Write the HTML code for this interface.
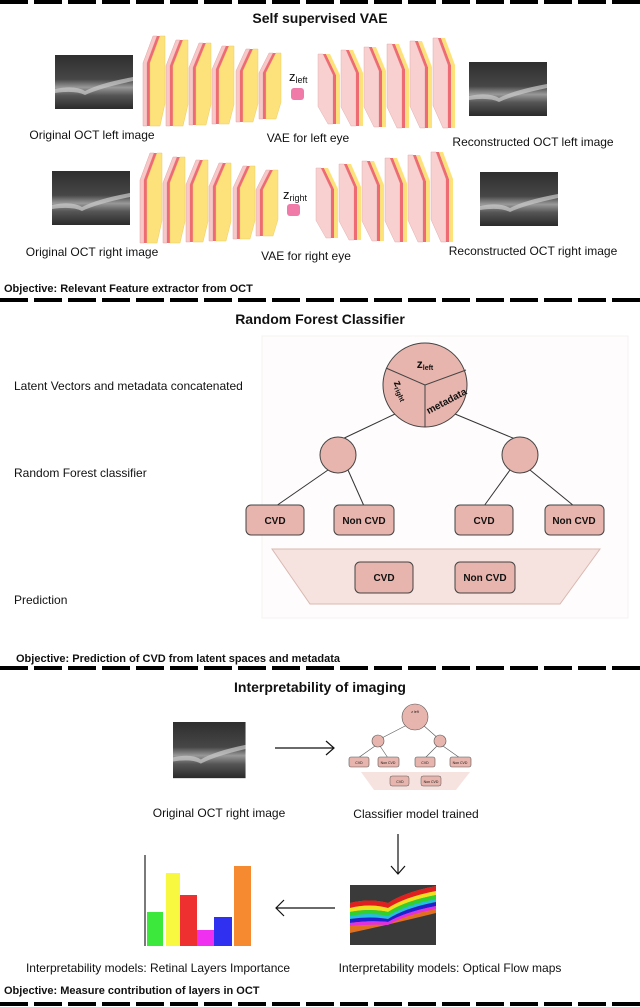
<!DOCTYPE html>
<html><head><meta charset="utf-8"><style>
html,body{margin:0;padding:0;background:#fff}
svg{display:block}
text{font-family:"Liberation Sans",Arial,sans-serif;fill:#111}
.b{font-weight:bold}
</style></head><body>
<svg width="640" height="1007" viewBox="0 0 640 1007" xmlns="http://www.w3.org/2000/svg">
<defs>
<linearGradient id="oct" x1="0" y1="0" x2="0" y2="1">
<stop offset="0" stop-color="#2e2e2e"/><stop offset="0.45" stop-color="#474747"/><stop offset="0.6" stop-color="#999"/><stop offset="0.75" stop-color="#555"/><stop offset="1" stop-color="#2a2a2a"/>
</linearGradient>
<pattern id="dash" width="34" height="4" patternUnits="userSpaceOnUse"><rect width="28" height="4" fill="#000"/></pattern>
<g id="enc"><polygon points="0,30 10,0 14,0 4,30 4,100 0,100" fill="#f8c8c8" stroke="#e0a0a0" stroke-width="0.5"/><polygon points="4,30 14,0 17,0 7,30 7,100 4,100" fill="#ee6b73"/><polygon points="7,30 17,0 22,0 22,75 17,100 7,100" fill="#fde27c" stroke="#e8c860" stroke-width="0.5"/></g>
<g id="dec"><polygon points="0,0 5,0 15,30 15,100 10,100 0,75" fill="#f8d0d0" stroke="#e0a8a8" stroke-width="0.5"/><polygon points="5,0 8,0 18,30 18,100 15,100 15,30" fill="#ee6b73"/><polygon points="8,0 12,0 22,30 22,100 18,100 18,30" fill="#fde27c"/></g>
<g id="octimg"><rect width="78" height="54" fill="url(#oct)"/><path d="M0,34 Q20,30 30,36 Q45,28 78,22 L78,26 Q45,33 30,40 Q20,35 0,38Z" fill="#ccc" opacity="0.7"/></g>
</defs>
<rect x="0" y="0" width="640" height="4" fill="url(#dash)"/>
<text x="320" y="23" text-anchor="middle" class="b" font-size="14">Self supervised VAE</text>

<use href="#octimg" x="55" y="55"/>
<use href="#octimg" x="469" y="62"/>
<use href="#enc" transform="translate(143,36) scale(1,0.9)"/>
<use href="#enc" transform="translate(166,40) scale(1,0.86)"/>
<use href="#enc" transform="translate(189,43) scale(1,0.82)"/>
<use href="#enc" transform="translate(212,46) scale(1,0.78)"/>
<use href="#enc" transform="translate(236,49) scale(1,0.73)"/>
<use href="#enc" transform="translate(259,53) scale(1,0.66)"/>
<text x="289" y="81" font-size="13">z<tspan font-size="9" dy="2">left</tspan></text>
<rect x="291" y="88" width="13" height="12" rx="3" fill="#f07aa8"/>
<use href="#dec" transform="translate(318,54) scale(1,0.7)"/>
<use href="#dec" transform="translate(341,50) scale(1,0.76)"/>
<use href="#dec" transform="translate(364,47) scale(1,0.8)"/>
<use href="#dec" transform="translate(387,44) scale(1,0.84)"/>
<use href="#dec" transform="translate(410,41) scale(1,0.87)"/>
<use href="#dec" transform="translate(433,38) scale(1,0.9)"/>
<text x="92" y="139" text-anchor="middle" font-size="12">Original OCT left image</text>
<text x="308" y="142" text-anchor="middle" font-size="12">VAE for left eye</text>
<text x="533" y="146" text-anchor="middle" font-size="12">Reconstructed OCT left image</text>

<use href="#octimg" x="52" y="171"/>
<use href="#octimg" x="480" y="172"/>
<use href="#enc" transform="translate(140,153) scale(1,0.9)"/>
<use href="#enc" transform="translate(163,157) scale(1,0.86)"/>
<use href="#enc" transform="translate(186,160) scale(1,0.82)"/>
<use href="#enc" transform="translate(209,163) scale(1,0.78)"/>
<use href="#enc" transform="translate(233,166) scale(1,0.73)"/>
<use href="#enc" transform="translate(256,170) scale(1,0.66)"/>
<text x="283" y="199" font-size="13">z<tspan font-size="9" dy="2">right</tspan></text>
<rect x="287" y="204" width="13" height="12" rx="3" fill="#f07aa8"/>
<use href="#dec" transform="translate(316,168) scale(1,0.7)"/>
<use href="#dec" transform="translate(339,164) scale(1,0.76)"/>
<use href="#dec" transform="translate(362,161) scale(1,0.8)"/>
<use href="#dec" transform="translate(385,158) scale(1,0.84)"/>
<use href="#dec" transform="translate(408,155) scale(1,0.87)"/>
<use href="#dec" transform="translate(431,152) scale(1,0.9)"/>
<text x="92" y="256" text-anchor="middle" font-size="12">Original OCT right image</text>
<text x="306" y="260" text-anchor="middle" font-size="12">VAE for right eye</text>
<text x="533" y="255" text-anchor="middle" font-size="12">Reconstructed OCT right image</text>

<text x="4" y="292" class="b" font-size="11">Objective: Relevant Feature extractor from OCT</text>
<rect x="0" y="298" width="640" height="4" fill="url(#dash)"/>

<text x="320" y="324" text-anchor="middle" class="b" font-size="14">Random Forest Classifier</text>
<rect x="262" y="336" width="366" height="282" fill="#fefcfc" stroke="#f6f2f2"/>
<text x="14" y="390" font-size="12">Latent Vectors and metadata  concatenated</text>
<text x="14" y="477" font-size="12">Random Forest classifier</text>
<text x="14" y="604" font-size="12">Prediction</text>
<g stroke="#333" stroke-width="1" fill="none">
<line x1="395" y1="414" x2="338" y2="441"/><line x1="455" y1="414" x2="520" y2="441"/>
<line x1="328" y1="470" x2="276" y2="506"/><line x1="348" y1="470" x2="364" y2="506"/>
<line x1="510" y1="470" x2="484" y2="506"/><line x1="530" y1="470" x2="574" y2="506"/>
</g>
<g fill="#e7b5ad" stroke="#444" stroke-width="1">
<circle cx="425" cy="385" r="42"/>
<circle cx="338" cy="455" r="18"/><circle cx="520" cy="455" r="18"/>
<rect x="246" y="505" width="58" height="30" rx="5"/>
<rect x="334" y="505" width="60" height="30" rx="5"/>
<rect x="455" y="505" width="58" height="30" rx="5"/>
<rect x="545" y="505" width="59" height="30" rx="5"/>
</g>
<g stroke="#444" stroke-width="1"><line x1="425" y1="385" x2="386" y2="368"/><line x1="425" y1="385" x2="466" y2="370"/><line x1="425" y1="385" x2="425" y2="427"/></g>
<text x="425" y="368" text-anchor="middle" class="b" font-size="12">z<tspan font-size="7" dy="2">left</tspan></text>
<text transform="translate(398,392) rotate(65)" text-anchor="middle" class="b" font-size="11">z<tspan font-size="7" dy="2">right</tspan></text>
<text transform="translate(448,404) rotate(-28)" text-anchor="middle" class="b" font-size="10">metadata</text>
<g font-size="10" class="b" text-anchor="middle">
<text x="275" y="524">CVD</text><text x="364" y="524">Non CVD</text><text x="484" y="524">CVD</text><text x="574" y="524">Non CVD</text></g>
<polygon points="272,549 600,549 560,604 310,604" fill="#f6e3df" stroke="#d9b8b2"/>
<g fill="#e7b5ad" stroke="#444"><rect x="355" y="562" width="58" height="31" rx="5"/><rect x="455" y="562" width="60" height="31" rx="5"/></g>
<g font-size="10" class="b" text-anchor="middle"><text x="384" y="581">CVD</text><text x="485" y="581">Non CVD</text></g>

<text x="16" y="662" class="b" font-size="11">Objective: Prediction of CVD from latent spaces and  metadata</text>
<rect x="0" y="666" width="640" height="4" fill="url(#dash)"/>

<text x="320" y="692" text-anchor="middle" class="b" font-size="14">Interpretability of imaging</text>
<g transform="translate(173,722) scale(0.93,1.04)"><use href="#octimg"/></g>
<g stroke="#111" stroke-width="1.2" fill="none"><line x1="275" y1="748" x2="334" y2="748"/><polyline points="326,741 334,748 326,755"/>
<line x1="398" y1="834" x2="398" y2="874"/><polyline points="391,866 398,874 405,866"/>
<line x1="335" y1="908" x2="276" y2="908"/><polyline points="284,900 276,908 284,916"/></g>
<g stroke="#555" stroke-width="0.6">
<line x1="407" y1="725" x2="378" y2="740"/><line x1="423" y1="725" x2="440" y2="740"/>
<line x1="375" y1="746" x2="358" y2="758"/><line x1="380" y1="746" x2="388" y2="758"/>
<line x1="437" y1="746" x2="425" y2="758"/><line x1="443" y1="746" x2="460" y2="758"/>
</g>
<g fill="#e7b5ad" stroke="#555" stroke-width="0.6">
<circle cx="415" cy="717" r="13"/><circle cx="378" cy="741" r="6"/><circle cx="440" cy="741" r="6"/>
<rect x="349" y="757" width="20" height="10" rx="2"/><rect x="378" y="757" width="21" height="10" rx="2"/>
<rect x="415" y="757" width="20" height="10" rx="2"/><rect x="450" y="757" width="21" height="10" rx="2"/>
</g>
<polygon points="361,772 470,772 456,790 374,790" fill="#f6e3df"/>
<g fill="#e7b5ad" stroke="#555" stroke-width="0.5"><rect x="390" y="776" width="19" height="10" rx="2"/><rect x="421" y="776" width="20" height="10" rx="2"/></g>
<g font-size="3.5" text-anchor="middle"><text x="359" y="764">CVD</text><text x="388" y="764">Non CVD</text><text x="425" y="764">CVD</text><text x="460" y="764">Non CVD</text><text x="400" y="783">CVD</text><text x="431" y="783">Non CVD</text><text x="415" y="713">z left</text></g>
<text x="219" y="817" text-anchor="middle" font-size="12">Original OCT right image</text>
<text x="416" y="818" text-anchor="middle" font-size="12">Classifier model trained</text>
<rect x="350" y="885" width="86" height="60" fill="#3a3a3a"/>
<path d="M350,903 Q370,898 388,903 Q405,892 436,886 L436,913 Q400,922 350,933Z" fill="#e07020"/>
<path d="M350,903 Q370,898 388,903 Q405,892 436,886 L436,891 Q405,897 388,908 Q370,903 350,908Z" fill="#e02020"/>
<path d="M350,908 Q370,903 388,908 Q405,897 436,891 L436,895 Q405,901 388,912 Q370,908 350,912Z" fill="#f0e020"/>
<path d="M350,912 Q370,908 388,912 Q405,901 436,895 L436,899 Q405,905 388,916 Q370,912 350,916Z" fill="#30d030"/>
<path d="M350,916 Q370,912 388,916 Q405,905 436,899 L436,902 Q405,908 388,919 Q370,916 350,919Z" fill="#20c0e0"/>
<path d="M350,919 Q370,916 388,919 Q405,908 436,902 L436,906 Q405,912 388,922 Q370,920 350,923Z" fill="#2020d0"/>
<path d="M350,923 Q370,920 388,922 Q405,912 436,906 L436,909 Q405,915 388,925 Q370,924 350,926Z" fill="#e030e0"/>
<line x1="145" y1="855" x2="145" y2="946" stroke="#222" stroke-width="1.2"/>
<rect x="147" y="912" width="16" height="34" fill="#3de83d"/>
<rect x="166" y="873" width="14" height="73" fill="#f8f840"/>
<rect x="180" y="895" width="17" height="51" fill="#ee3030"/>
<rect x="197" y="930" width="17" height="16" fill="#f030f0"/>
<rect x="214" y="917" width="18" height="29" fill="#3030f0"/>
<rect x="234" y="866" width="17" height="80" fill="#f58a30"/>
<text x="158" y="972" text-anchor="middle" font-size="12">Interpretability models: Retinal Layers Importance</text>
<text x="450" y="972" text-anchor="middle" font-size="12">Interpretability models: Optical Flow maps</text>
<text x="4" y="994" class="b" font-size="11">Objective: Measure contribution of layers in OCT</text>
<rect x="0" y="1002" width="640" height="4" fill="url(#dash)"/>
</svg>
</body></html>
